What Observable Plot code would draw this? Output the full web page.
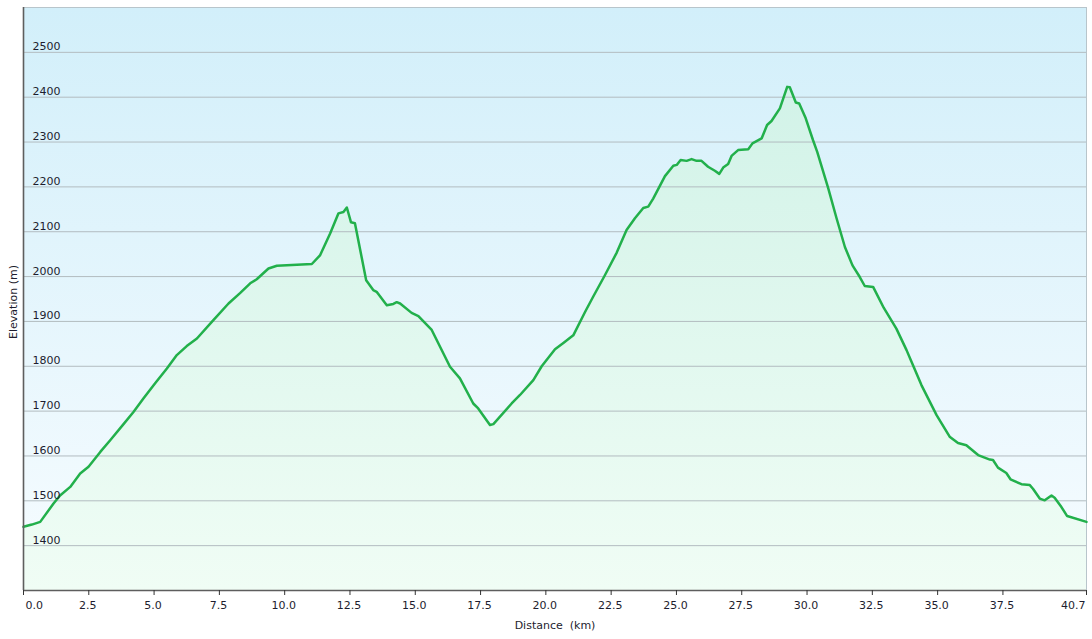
<!DOCTYPE html>
<html><head><meta charset="utf-8">
<script src="https://cdn.jsdelivr.net/npm/d3@7"></script>
<script src="https://cdn.jsdelivr.net/npm/@observablehq/plot@0.6"></script>
<style>body{margin:0;background:#fff;} svg{display:block}</style>
</head><body><div id="chart"></div>
<script>
const distanceKm = [0,0.32,0.64,1.15,1.40,1.79,2.17,2.49,2.94,3.32,3.83,4.21,4.59,5.04,5.49,5.87,6.25,6.64,7.27,7.85,8.29,8.68,8.93,9.38,9.70,11.04,11.36,11.74,12.06,12.25,12.38,12.54,12.69,13.12,13.39,13.52,13.91,14.16,14.29,14.42,14.86,15.12,15.63,16.33,16.71,17.22,17.41,17.86,17.99,18.69,19.01,19.52,19.84,20.35,20.67,21.05,21.50,21.81,22.26,22.71,23.09,23.41,23.73,23.92,24.11,24.56,24.88,25.01,25.16,25.39,25.58,25.77,25.96,26.21,26.47,26.64,26.79,26.98,27.11,27.36,27.75,27.91,28.26,28.47,28.64,28.96,29.24,29.34,29.57,29.70,29.95,30.23,30.39,30.81,31.13,31.45,31.74,32.02,32.21,32.53,32.94,33.42,33.81,34.00,34.38,34.96,35.46,35.78,36.10,36.55,37.00,37.12,37.31,37.63,37.79,38.21,38.53,38.65,38.91,39.10,39.36,39.48,39.74,39.96,40.70];
const elevationM = [1442,1447,1453,1494,1512,1531,1561,1576,1609,1635,1671,1698,1728,1762,1795,1825,1845,1862,1903,1940,1963,1985,1994,2018,2024,2028,2048,2096,2141,2144,2154,2121,2119,1992,1970,1966,1936,1939,1943,1940,1919,1912,1881,1799,1773,1717,1706,1669,1671,1717,1736,1769,1800,1838,1852,1869,1921,1955,2003,2053,2104,2130,2153,2156,2174,2224,2247,2249,2260,2258,2262,2258,2258,2245,2236,2229,2243,2251,2269,2282,2284,2297,2308,2338,2347,2375,2423,2422,2388,2386,2353,2304,2278,2197,2130,2066,2025,1999,1979,1977,1930,1884,1836,1810,1758,1691,1643,1629,1624,1602,1592,1591,1574,1562,1548,1537,1535,1527,1505,1501,1512,1507,1486,1466,1453];
const yTicks = [1400,1500,1600,1700,1800,1900,2000,2100,2200,2300,2400,2500];
const xTicks = [0,2.5,5,7.5,10,12.5,15,17.5,20,22.5,25,27.5,30,32.5,35,37.5,40.7];
const xTitle = "Distance \u00a0(km)";
const yTitle = "Elevation (m)";

const profile = distanceKm.map((d, i) => ({d, e: elevationM[i]}));
const ink = "#1d1d2e";

const chart = Plot.plot({
  width: 1092, height: 639,
  marginLeft: 23, marginRight: 6, marginTop: 7, marginBottom: 49,
  style: {fontFamily: "'DejaVu Sans', Verdana, sans-serif", fontSize: "11px", background: "#fff"},
  x: {domain: [0, 40.7]},
  y: {domain: [1300, 2600], axis: null},
  marks: [
    Plot.frame({fill: "url(#bg)", stroke: "none"}),
    Plot.areaY(profile, {x: "d", y1: 1300, y2: "e", fill: "url(#ag)"}),
    Plot.ruleY(yTicks, {stroke: "#b3bcc0", strokeWidth: 1}),
    Plot.frame({stroke: "#b8c5cb"}),
    Plot.line(profile, {x: "d", y: "e", stroke: "#22b04b", strokeWidth: 2.5, strokeLinejoin: "round"}),
    Plot.ruleX([0], {stroke: "#5e5e5e", strokeWidth: 1.6}),
    Plot.ruleY([1300], {stroke: "#5e5e5e", strokeWidth: 1.6}),
    Plot.axisX(xTicks, {tickSize: 5, tickFormat: () => "", stroke: "#333", label: null}),
    Plot.text(xTicks.slice(0, 1), {x: d => d, frameAnchor: "bottom", text: d => d.toFixed(1), textAnchor: "start", lineAnchor: "top", dy: 11, dx: 2, fill: ink}),
    Plot.text(xTicks.slice(1, -1), {x: d => d, frameAnchor: "bottom", text: d => d.toFixed(1), textAnchor: "middle", lineAnchor: "top", dy: 11, dx: -1, fill: ink}),
    Plot.text(xTicks.slice(-1), {x: d => d, frameAnchor: "bottom", text: d => d.toFixed(1), textAnchor: "end", lineAnchor: "top", dy: 11, dx: -1, fill: ink}),
    Plot.text(yTicks, {x: 0, y: d => d, text: d => String(d), textAnchor: "start", lineAnchor: "bottom", dx: 9, dy: -2, fill: ink}),
    Plot.text([xTitle], {frameAnchor: "bottom", textAnchor: "middle", lineAnchor: "bottom", dy: 38, fill: ink}),
    Plot.text([yTitle], {frameAnchor: "left", textAnchor: "middle", lineAnchor: "middle", rotate: -90, dx: -10, dy: 3, fill: ink})
  ]
});

const svg = d3.select(chart);
const defs = svg.insert("defs", ":first-child");
const bg = defs.append("linearGradient").attr("id", "bg").attr("x1", 0).attr("y1", 0).attr("x2", 0).attr("y2", 1);
bg.append("stop").attr("offset", "0%").attr("stop-color", "#d2effa");
bg.append("stop").attr("offset", "100%").attr("stop-color", "#f7fcff");
const ag = defs.append("linearGradient").attr("id", "ag").attr("gradientUnits", "userSpaceOnUse")
  .attr("x1", 0).attr("y1", 7).attr("x2", 0).attr("y2", 590);
ag.append("stop").attr("offset", "0%").attr("stop-color", "#cdf1e6");
ag.append("stop").attr("offset", "100%").attr("stop-color", "#f0fdf5");

document.getElementById("chart").appendChild(chart);
</script>
</body></html>
